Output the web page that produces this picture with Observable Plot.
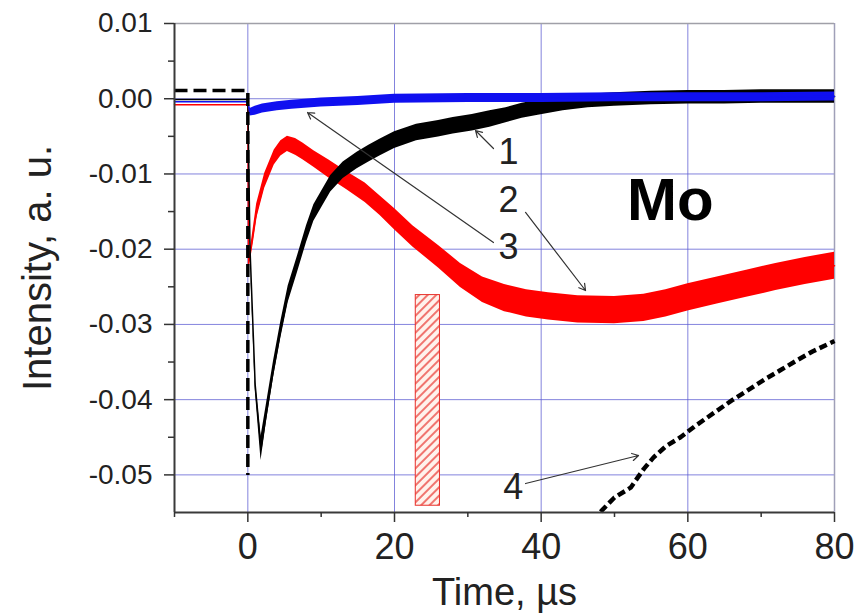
<!DOCTYPE html>
<html><head><meta charset="utf-8">
<script src="https://cdn.jsdelivr.net/npm/d3@7"></script>
<script src="https://cdn.jsdelivr.net/npm/@observablehq/plot@0.6"></script>
<style>
html,body{margin:0;padding:0;background:#fff;}
</style>
</head><body><div id="chart"></div>
<script>
// ---- axes ----
const xDomain = [-10, 80];
const yDomain = [-0.055, 0.01];
const xMajorTicks = [0, 20, 40, 60, 80];
const xMinorTicks = [-10, 10, 30, 50, 70];
const yMajorTicks = [-0.05, -0.04, -0.03, -0.02, -0.01, 0.00, 0.01];
const yMinorTicks = [-0.045, -0.035, -0.025, -0.015, -0.005, 0.005];
const xGrid = [0, 20, 40, 60];
const yGrid = [-0.05, -0.04, -0.03, -0.02, -0.01, 0.00];
const xTitle = "Time, µs";
const yTitle = "Intensity, a. u.";

// ---- curve 1 (black): time, centre value, noise half-band ----
const t1 = [-10, 0, 0.3, 1.0, 1.8, 2.5, 3.5, 4.5, 5.5, 6.8, 8, 9, 10, 11.3, 13, 14.9, 16.5, 18, 20, 23, 26, 28, 30.6, 33, 35.2, 37.4, 39.6, 43, 46.4, 50, 55, 60, 65, 70, 75, 80];
const v1 = [-0.0001, -0.0001, -0.020, -0.038, -0.0465, -0.042, -0.036, -0.0307, -0.026, -0.0219, -0.018, -0.0152, -0.0135, -0.0113, -0.0095, -0.0082, -0.0073, -0.0065, -0.0055, -0.0045, -0.0040, -0.0036, -0.0032, -0.0027, -0.0022, -0.0016, -0.0012, -0.0007, -0.0003, -0.0001, 0.0001, 0.0002, 0.0002, 0.0003, 0.0003, 0.0003];
const s1 = [0, 0, 0.0004, 0.0007, 0.0016, 0.0012, 0.0011, 0.0011, 0.0011, 0.0011, 0.0011, 0.0011, 0.0011, 0.0011, 0.0011, 0.0011, 0.0011, 0.0011, 0.0011, 0.0011, 0.0011, 0.0011, 0.0011, 0.0011, 0.0010, 0.0010, 0.0010, 0.0009, 0.0009, 0.0009, 0.0009, 0.0009, 0.0009, 0.0009, 0.0009, 0.0009];

// ---- curve 2 (red) ----
const t2 = [-10, 0, 0.1, 0.6, 1.2, 2.3, 3.6, 4.5, 5.4, 6.5, 7.5, 9, 11, 13.5, 16, 18, 20, 22.5, 26, 29, 32, 35, 38, 41, 45, 50, 54, 57, 60, 64, 68, 72, 76, 80];
const v2 = [-0.0008, -0.0008, -0.022, -0.019, -0.015, -0.0109, -0.0078, -0.0066, -0.0060, -0.0064, -0.0070, -0.0080, -0.0093, -0.0109, -0.0125, -0.0142, -0.0160, -0.0183, -0.0210, -0.0235, -0.0254, -0.0265, -0.0272, -0.0276, -0.0280, -0.0281, -0.0278, -0.0272, -0.0264, -0.0255, -0.0246, -0.0237, -0.0229, -0.0222];
const s2 = [0, 0, 0.0005, 0.0008, 0.0010, 0.0010, 0.0010, 0.0010, 0.0010, 0.0011, 0.0011, 0.0011, 0.0012, 0.0012, 0.0013, 0.0013, 0.0014, 0.0014, 0.0015, 0.0016, 0.0017, 0.0018, 0.0018, 0.0018, 0.0018, 0.0018, 0.0018, 0.0018, 0.0018, 0.0018, 0.0018, 0.0018, 0.0018, 0.0018];

// ---- curve 3 (blue) ----
const t3 = [-10, 0, 0.3, 1, 2, 4, 6, 10, 15, 20, 30, 40, 50, 60, 70, 80];
const v3 = [-0.0004, -0.0004, -0.0018, -0.0016, -0.0013, -0.0010, -0.0008, -0.0005, -0.0003, 0.0000, 0.0001, 0.0001, 0.0002, 0.0002, 0.0002, 0.0003];
const s3 = [0, 0, 0.0005, 0.0006, 0.0006, 0.0006, 0.0006, 0.0006, 0.0006, 0.0006, 0.0006, 0.0006, 0.0006, 0.0006, 0.0006, 0.0006];

// ---- curve 4 (black dashed): before the pulse, and where it re-enters the scale ----
const t4a = [-10, 0, 0];
const v4a = [0.0011, 0.0011, -0.050];
const t4b = [48.1, 50, 52.2, 54, 55.3, 57, 59, 61, 63.5, 66, 68.1, 70.5, 72.6, 75, 77, 80];
const v4b = [-0.0549, -0.0530, -0.0517, -0.0492, -0.0477, -0.0462, -0.0450, -0.0435, -0.0418, -0.0401, -0.0388, -0.0373, -0.0361, -0.0347, -0.0336, -0.0322];

// ---- annotations ----
const annoLabels = ["1", "2", "3", "4"];
const annoX = [35.55, 35.55, 35.55, 36.2];
const annoY = [-0.00715, -0.01353, -0.01978, -0.05168];
const arrowX1 = [33.5, 37.87, 33.5, 37.87];
const arrowY1 = [-0.00662, -0.01512, -0.01911, -0.05115];
const arrowX2 = [31.05, 46.05, 8.14, 53.28];
const arrowY2 = [-0.00422, -0.02549, -0.00183, -0.04742];
const elementLabel = ["Mo"];
const elementX = [57.6];
const elementY = [-0.0136];
const hatchX = [22.9, 26.2];
const hatchY = [-0.0541, -0.0261];

// ---- build ----
const pts = (t, v, s) => t.map((x, i) => ({x, y: v[i], s: s ? s[i] : 0}));
const c1 = pts(t1, v1, s1), c2 = pts(t2, v2, s2), c3 = pts(t3, v3, s3);
const c4a = pts(t4a, v4a), c4b = pts(t4b, v4b);
const annos = annoLabels.map((t, i) => ({t, x: annoX[i], y: annoY[i]}));
const arrows = arrowX1.map((x1, i) => ({x1, y1: arrowY1[i], x2: arrowX2[i], y2: arrowY2[i]}));
const elem = elementLabel.map((t, i) => ({t, x: elementX[i], y: elementY[i]}));
const hatch = [{x1: hatchX[0], x2: hatchX[1], y1: hatchY[0], y2: hatchY[1]}];

const band = (data, color) => Plot.areaY(data, {x: "x", y1: d => d.y - d.s, y2: d => d.y + d.s, fill: color, curve: "linear"});
const line = (data, color, w) => Plot.line(data, {x: "x", y: "y", stroke: color, strokeWidth: w, curve: "linear"});

const svg = Plot.plot({
  width: 867,
  height: 615,
  marginLeft: 174,
  marginRight: 33,
  marginTop: 23,
  marginBottom: 103,
  style: {fontFamily: "'Liberation Sans', Arial, sans-serif", background: "#fff", color: "#222"},
  x: {domain: xDomain},
  y: {domain: yDomain},
  marks: [
    Plot.gridX(xGrid, {stroke: "#5a5ad2", strokeOpacity: 0.75, strokeWidth: 1}),
    Plot.gridY(yGrid, {stroke: "#5a5ad2", strokeOpacity: 0.75, strokeWidth: 1}),
    Plot.ruleY([yDomain[1]], {stroke: "#a0a0a8", strokeWidth: 1.5}),
    Plot.ruleX([xDomain[1]], {stroke: "#a0a0b8", strokeWidth: 1.5}),
    Plot.rect(hatch, {x1: "x1", x2: "x2", y1: "y1", y2: "y2", fill: "url(#hatch)", stroke: "#e8302a", strokeWidth: 1}),
    band(c2, "#ff0000"), line(c2, "#ff0000", 1.5),
    band(c1, "#000000"), line(c1, "#000000", 1.5),
    band(c3, "#1010f0"), line(c3, "#1010f0", 1.5),
    Plot.line(c4a, {x: "x", y: "y", stroke: "#000", strokeWidth: 3.5, strokeDasharray: "13,6", strokeLinecap: "butt", strokeLinejoin: "miter"}),
    Plot.line(c4b, {x: "x", y: "y", stroke: "#000", strokeWidth: 4.5, strokeDasharray: "8,4", strokeLinecap: "butt"}),
    Plot.arrow(arrows, {x1: "x1", y1: "y1", x2: "x2", y2: "y2", stroke: "#333", strokeWidth: 1.2, headLength: 9, bend: 0}),
    Plot.text(annos, {x: "x", y: "y", text: "t", fontSize: 36, fill: "#222", lineAnchor: "middle"}),
    Plot.text(elem, {x: "x", y: "y", text: "t", fontSize: 60, fontWeight: "bold", fill: "#000", lineAnchor: "middle"}),
    Plot.ruleX([xDomain[0]], {stroke: "#3a3a3a", strokeWidth: 2}),
    Plot.ruleY([yDomain[0]], {stroke: "#3a3a3a", strokeWidth: 2}),
    Plot.axisX({ticks: xMajorTicks, tickSize: 10, tickPadding: 11, fontSize: 36, tickFormat: d => String(d), label: null, stroke: "#333", strokeWidth: 1.5, fill: "#222"}),
    Plot.axisX({ticks: xMinorTicks, tickSize: 5, tickFormat: () => "", label: null, stroke: "#333", strokeWidth: 1.5}),
    Plot.axisY({ticks: yMajorTicks, tickSize: 10, tickPadding: 12, fontSize: 28, tickFormat: d => d.toFixed(2), label: null, stroke: "#333", strokeWidth: 1.5, fill: "#222"}),
    Plot.axisY({ticks: yMinorTicks, tickSize: 6, tickFormat: () => "", label: null, stroke: "#333", strokeWidth: 1.5}),
    Plot.text([xTitle], {text: d => d, frameAnchor: "bottom", lineAnchor: "top", dy: 66, fontSize: 38, fill: "#222"}),
    Plot.text([yTitle], {text: d => d, frameAnchor: "left", rotate: -90, textAnchor: "middle", lineAnchor: "top", dx: -152, fontSize: 40, fill: "#222"})
  ]
});

const ns = "http://www.w3.org/2000/svg";
const defs = document.createElementNS(ns, "defs");
defs.innerHTML = '<pattern id="hatch" patternUnits="userSpaceOnUse" width="6" height="6" patternTransform="rotate(45)"><rect width="6" height="6" fill="#fff2ec"/><line x1="1" y1="0" x2="1" y2="6" stroke="#e8302a" stroke-width="1.3"/></pattern>';
svg.insertBefore(defs, svg.firstChild);
document.getElementById("chart").appendChild(svg);
</script>
</body></html>
